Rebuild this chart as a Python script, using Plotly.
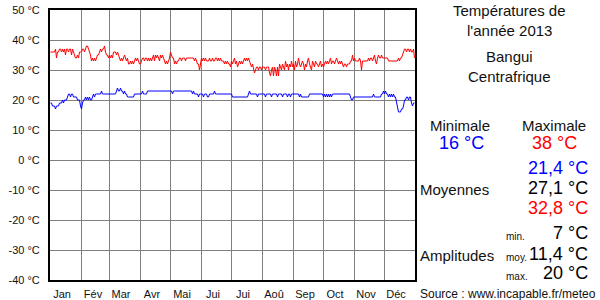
import plotly.graph_objects as go

# ---------------- data ----------------
month_names = ["Jan", "Fév", "Mar", "Avr", "Mai", "Jui", "Jui", "Aoû", "Sep", "Oct", "Nov", "Déc"]
month_days = [31, 28, 31, 30, 31, 30, 31, 31, 30, 31, 30, 31]

tmax_jan = [36,36,36,36,36,37,34,36,36,37,37,36,37,36,37,35,37,37,36,37,37,35,37,36,35,34,34,35,34,36,36]
tmax_feb = [36,37,37,36,37,38,38,37,36,35,33,34,33,34,33,34,35,35,36,37,36,37,37,38,36,35,35,34]
tmax_mar = [35,34,35,34,36,36,36,35,36,35,34,33,34,33,34,35,34,33,34,32,32,33,32,33,32,33,34,33,34,33,32]
tmax_apr = [32,33,34,34,33,34,34,33,34,33,34,33,34,35,33,35,34,35,34,33,35,34,35,34,33,32,33,32,33,34]
tmax_may = [36,35,34,34,32,33,32,33,33,34,34,33,34,34,34,33,34,34,34,34,34,34,34,34,33,34,33,32,32,30,32]
tmax_jun = [34,33,34,33,34,33,33,33,34,33,33,34,33,33,34,34,33,34,33,34,33,33,33,32,33,32,33,32,32,31]
tmax_jul = [33,32,33,34,32,33,31,32,33,32,33,32,33,34,33,34,33,34,33,32,31,32,30,29,30,31,31,30,31,31,30]
tmax_aug = [31,31,31,30,31,31,31,29,28,30,31,28,31,30,28,31,28,32,31,30,32,31,30,33,31,32,30,32,31,33,31]
tmax_sep = [32,30,33,31,32,34,32,31,32,33,32,30,32,31,33,34,32,31,30,33,32,31,33,32,32,31,32,33,31,32]
tmax_oct = [31,32,33,32,33,32,33,34,32,33,33,32,33,34,33,32,33,32,33,32,31,32,32,31,32,32,32,33,33,35,33]
tmax_nov = [34,33,33,33,33,34,33,30,33,33,33,33,33,33,34,33,34,34,33,34,35,33,32,34,35,34,34,35,34,34]
tmax_dec = [34,34,34,34,33,33,33,33,33,33,33,33,33,33,34,33,34,34,35,36,37,37,36,37,37,36,37,36,36,37,34]

tmin_jan = [19,19,18,18,18,17,18,18,18,19,19,19,20,19,20,20,20,21,22,22,21,22,22,21,21,21,21,20,20,20,18]
tmin_feb = [17,19,20,20,21,20,21,20,21,20,20,21,22,21,22,22,22,22,22,22,23,22,22,22,22,22,22,22]
tmin_mar = [22,22,22,22,22,22,22,23,24,23,23,24,23,23,22,23,22,22,21,21,21,21,21,21,21,22,22,22,22,22,22]
tmin_apr = [22,22,23,22,22,22,22,23,23,23,23,23,23,23,23,23,23,23,23,23,23,23,23,23,23,23,23,23,23,23]
tmin_may = [23,23,22,23,23,23,23,23,23,23,23,23,23,23,23,23,23,23,23,23,23,23,22,23,22,22,22,22,21,22,22]
tmin_jun = [22,22,21,22,22,22,21,21,22,22,22,22,22,23,22,22,22,22,22,22,22,22,22,22,22,22,22,22,22,22]
tmin_jul = [22,21,21,21,21,21,21,21,21,21,21,21,21,21,21,21,21,22,23,22,22,22,22,22,22,22,21,22,22,22,22]
tmin_aug = [22,22,22,21,22,22,22,22,22,21,22,22,22,22,22,21,22,22,22,22,21,22,22,22,22,21,22,22,21,22,22]
tmin_sep = [22,22,22,22,22,22,21,22,21,21,21,21,21,21,21,21,22,22,22,22,22,22,22,22,22,22,22,22,22,22]
tmin_oct = [21,22,21,22,21,22,21,22,21,22,22,22,22,22,22,22,22,22,22,22,22,22,22,22,22,22,22,21,20,20,21]
tmin_nov = [21,21,21,21,21,21,21,21,21,21,21,21,21,21,21,21,21,21,21,22,21,21,21,21,21,21,21,22,22,23]
tmin_dec = [22,23,22,22,21,22,21,22,21,22,21,21,19,17,16,16,16,17,17,18,20,20,21,21,20,21,21,19,18,19,19]

tmax = (tmax_jan + tmax_feb + tmax_mar + tmax_apr + tmax_may + tmax_jun +
        tmax_jul + tmax_aug + tmax_sep + tmax_oct + tmax_nov + tmax_dec)
tmin = (tmin_jan + tmin_feb + tmin_mar + tmin_apr + tmin_may + tmin_jun +
        tmin_jul + tmin_aug + tmin_sep + tmin_oct + tmin_nov + tmin_dec)
days = [d + 0.5 for d in range(len(tmax))]

month_starts = [sum(month_days[:i]) for i in range(13)]
ytick_vals = list(range(-40, 51, 10))
ytick_text = [f"{v} °C" for v in ytick_vals]

title_lines = ["Températures de", "l'année 2013"]
place_lines = ["Bangui", "Centrafrique"]
stat_min, stat_max = "16 °C", "38 °C"
mean_min, mean_avg, mean_max = "21,4 °C", "27,1 °C", "32,8 °C"
amp_min, amp_avg, amp_max = "7 °C", "11,4 °C", "20 °C"
source_text = "Source : www.incapable.fr/meteo"

# ---------------- figure ----------------
FONT = "Liberation Sans, Arial, sans-serif"
W, H = 600, 300
L, R, T, B = 50, 185, 10, 20
PW, PH = W - L - R, H - T - B

fig = go.Figure()
fig.add_trace(go.Scatter(x=days, y=tmax, mode="lines", line=dict(color="#ff0000", width=1),
                         hoverinfo="skip", showlegend=False))
fig.add_trace(go.Scatter(x=days, y=tmin, mode="lines", line=dict(color="#0000ff", width=1),
                         hoverinfo="skip", showlegend=False))

fig.update_layout(
    width=W, height=H, margin=dict(l=L, r=R, t=T, b=B, autoexpand=False),
    paper_bgcolor="white", plot_bgcolor="white",
    font=dict(family=FONT, size=12, color="#111"),
    showlegend=False,
)
fig.update_xaxes(
    range=[0, 365], showgrid=False, zeroline=False, automargin=False,
    tickmode="array", tickvals=[s + 12 for s in month_starts[:12]], ticktext=month_names,
    ticks="", tickfont=dict(size=11, color="#111"), ticklabelstandoff=3,
    showline=True, mirror=True, linecolor="black", linewidth=2,
    minor=dict(tickmode="array", tickvals=month_starts, showgrid=True,
               gridcolor="#808080", gridwidth=1, ticks=""),
)
fig.update_yaxes(
    range=[-40, 50], tickmode="array", tickvals=ytick_vals, ticktext=ytick_text,
    showgrid=True, gridcolor="#808080", gridwidth=1, zeroline=False, automargin=False,
    ticks="", ticklabelstandoff=6, tickfont=dict(size=11, color="#111"),
    showline=True, mirror=True, linecolor="black", linewidth=2,
)

def px(xp):
    return (xp - L) / PW

def py(yp):
    return (H - B - yp) / PH

def note(text, x, y, size=14, color="#111", xanchor="center"):
    fig.add_annotation(text=text, x=px(x), y=py(y), xref="paper", yref="paper",
                       xanchor=xanchor, yanchor="middle", showarrow=False, borderpad=0,
                       font=dict(family=FONT, size=size, color=color))

note(title_lines[0], 509, 10, 15)
note(title_lines[1], 509, 30, 15)
note(place_lines[0], 509, 57, 15)
note(place_lines[1], 509, 77, 15)
note("Minimale", 460, 125, 15)
note("Maximale", 554, 125, 15)
note(stat_min, 461, 143, 18, "#0000ff")
note(stat_max, 554, 143, 18, "#ff0000")
note(mean_min, 589, 168, 18, "#0000ff", "right")
note(mean_avg, 589, 188, 18, "#000", "right")
note(mean_max, 589, 208, 18, "#ff0000", "right")
note("Moyennes", 419, 189, 15, "#111", "left")
note("min.", 505, 236, 10, "#111", "left")
note(amp_min, 589, 233, 18, "#000", "right")
note("Amplitudes", 419, 255, 15, "#111", "left")
note("moy.", 505, 257, 10, "#111", "left")
note(amp_avg, 589, 254, 18, "#000", "right")
note("max.", 505, 276, 10, "#111", "left")
note(amp_max, 589, 273, 18, "#000", "right")
note(source_text, 419, 294, 12, "#111", "left")

fig.write_html("out.html")
